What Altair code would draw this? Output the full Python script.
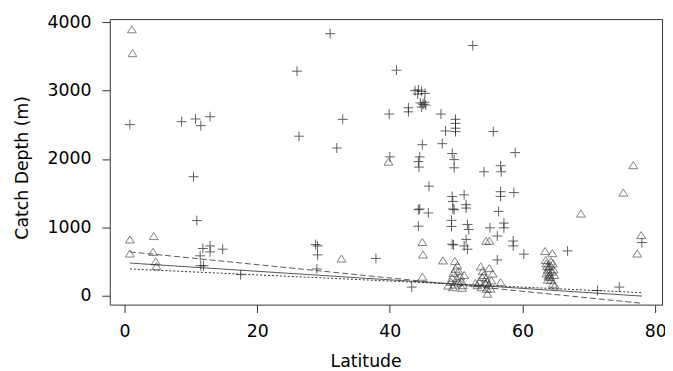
import altair as alt
import pandas as pd

# Triangles (open) : latitude / catch depth
tri_lat = [1.1, 1.2, 0.8, 0.8, 4.4, 4.3, 4.7, 4.8, 32.7, 39.8, 44.9, 45.0, 44.9, 48.0, 49.8,
           48.8, 49.2, 49.4, 49.6, 49.9, 50.2, 50.4, 50.6, 50.8, 51.0, 49.7, 50.9, 50.3, 49.5, 51.2, 50.1,
           53.7, 54.0, 54.2, 54.5, 54.7, 54.9, 55.2, 54.6, 54.7, 53.5, 53.2, 55.5, 55.0, 53.8, 54.4, 55.3, 53.9, 52.9,
           56.7, 54.5, 55.0,
           63.4, 64.5, 63.5, 63.6, 63.7, 63.8, 64.0, 64.1, 64.2, 64.3, 63.6, 63.9, 64.6, 64.7, 64.8, 64.0,
           64.3, 64.4, 64.2, 63.8, 64.6, 64.9,
           68.8, 75.2, 76.7, 77.9, 77.3]
tri_depth = [3900, 3550, 820, 614, 870, 638, 499, 430, 540, 1960, 783, 600, 275, 513, 505,
             145, 200, 260, 330, 390, 440, 360, 280, 210, 150, 160, 112, 190, 120, 300, 250,
             426, 360, 300, 250, 200, 150, 100, 97, 25, 200, 150, 320, 400, 120, 180, 220, 270, 180,
             194, 800, 800,
             650, 620, 520, 470, 430, 380, 340, 300, 270, 230, 320, 280, 470, 380, 300, 420,
             500, 350, 440, 230, 170, 145,
             1200, 1507, 1909, 884, 614]

# Pluses
plus_lat = [0.8, 8.6, 10.7, 11.5, 12.9, 10.4, 10.9, 11.8, 12.9, 12.9, 14.8, 11.4, 11.5, 11.9, 17.5,
            31.0, 26.0, 32.9, 26.3, 32.0, 28.8, 29.1, 29.1, 29.0, 37.9,
            52.5, 41.0, 39.9, 42.8, 42.8,
            43.8, 44.3, 44.8, 45.3, 44.2, 44.6, 45.0, 45.4, 44.8, 45.2,
            47.7, 49.9, 49.9, 49.9, 49.9, 48.4, 55.6, 44.9, 47.9, 49.4, 49.7, 49.7, 58.9, 44.5, 44.3, 44.4,
            54.2, 56.7, 56.8, 40.0, 45.9,
            49.4, 49.5, 51.2, 51.5, 51.5, 56.7, 56.7, 58.7, 44.5, 44.3, 45.8, 49.5, 49.7, 49.3, 49.3,
            51.7, 51.9, 44.3, 55.1, 56.2, 57.2, 57.2, 56.4, 58.6, 58.6, 60.2, 56.2, 49.4, 49.6, 51.2,
            51.7, 51.5, 66.8, 43.3, 71.3, 74.6, 78.0]
plus_depth = [2503, 2546, 2585, 2488, 2619, 1739, 1097, 687, 725, 638, 677, 580, 435, 435, 304,
              3836, 3286, 2580, 2333, 2160, 745, 725, 594, 387, 542,
              3662, 3300, 2658, 2750, 2690,
              3000, 3010, 2990, 2960, 2950, 2820, 2800, 2790, 2760, 2830,
              2658, 2580, 2520, 2450, 2400, 2410, 2401, 2209, 2223, 2078, 1990, 1870, 2093, 2030, 1960, 1880,
              1812, 1900, 1812, 2030, 1600,
              1450, 1377, 1474, 1329, 1280, 1520, 1450, 1507, 1266, 1256, 1208, 1266, 1256, 1100, 1010,
              1040, 966, 1014, 990, 870, 1060, 990, 1231, 797, 725, 604, 520, 749, 740, 725,
              677, 820, 652, 122, 72, 122, 774]

# Fitted lines (end points)
fit_lat = [0.8, 78.0]
fit_solid = [474, -10]
fit_long = [638, -115]
fit_short = [387, 40]

tri = pd.DataFrame({"Latitude": tri_lat, "Depth": tri_depth})
plus = pd.DataFrame({"Latitude": plus_lat, "Depth": plus_depth})
f_solid = pd.DataFrame({"Latitude": fit_lat, "Depth": fit_solid})
f_long = pd.DataFrame({"Latitude": fit_lat, "Depth": fit_long})
f_short = pd.DataFrame({"Latitude": fit_lat, "Depth": fit_short})

FONT = "DejaVu Sans"

x = alt.X("Latitude:Q",
          scale=alt.Scale(domain=[-2.23, 81.04], nice=False, zero=False),
          axis=alt.Axis(values=[0, 20, 40, 60, 80], title="Latitude", format="d",
                        titleX=259, titleY=63, titleAlign="center", titleBaseline="alphabetic",
                        labelPadding=10))
y = alt.Y("Depth:Q",
          scale=alt.Scale(domain=[-135, 4049], nice=False, zero=False),
          axis=alt.Axis(values=[0, 1000, 2000, 3000, 4000], title="Catch Depth (m)", format="d",
                        titleX=-83, titleY=150, titleAngle=270, titleAlign="center",
                        titleBaseline="alphabetic", labelPadding=11))

tri_path = "M0,-0.8L1,0.8L-1,0.8Z"
plus_path = "M-1,0L1,0M0,-1L0,1"

pts_tri = alt.Chart(tri).mark_point(shape=tri_path, size=80, filled=False, stroke="#333333",
                                    strokeWidth=1, opacity=0.62).encode(x=x, y=y)
pts_plus = alt.Chart(plus).mark_point(shape=plus_path, size=100, filled=False, stroke="#222222",
                                      strokeWidth=1, opacity=0.72).encode(x=x, y=y)
l_solid = alt.Chart(f_solid).mark_line(color="#555555", strokeWidth=1).encode(x=x, y=y)
l_long = alt.Chart(f_long).mark_line(color="#555555", strokeWidth=1, strokeDash=[6, 3]).encode(x=x, y=y)
l_short = alt.Chart(f_short).mark_line(color="#333333", strokeWidth=1, strokeDash=[2, 2]).encode(x=x, y=y)

chart = alt.layer(l_solid, l_long, l_short, pts_tri, pts_plus).properties(
    width=559, height=289,
    autosize=alt.AutoSizeParams(type="none"),
    padding={"left": 103, "top": 9, "right": 3, "bottom": 68},
    background="white",
).configure_view(
    stroke="#333333", strokeWidth=1
).configure_axis(
    domain=False, grid=False, tickColor="#333333", tickSize=8, tickWidth=1,
    labelFont=FONT, labelFontSize=17.5, labelColor="#000000",
    titleFont=FONT, titleFontSize=17.5, titleFontWeight="normal", titleColor="#000000",
)

chart.save("out.html", embed_options={"renderer": "svg", "actions": False})
